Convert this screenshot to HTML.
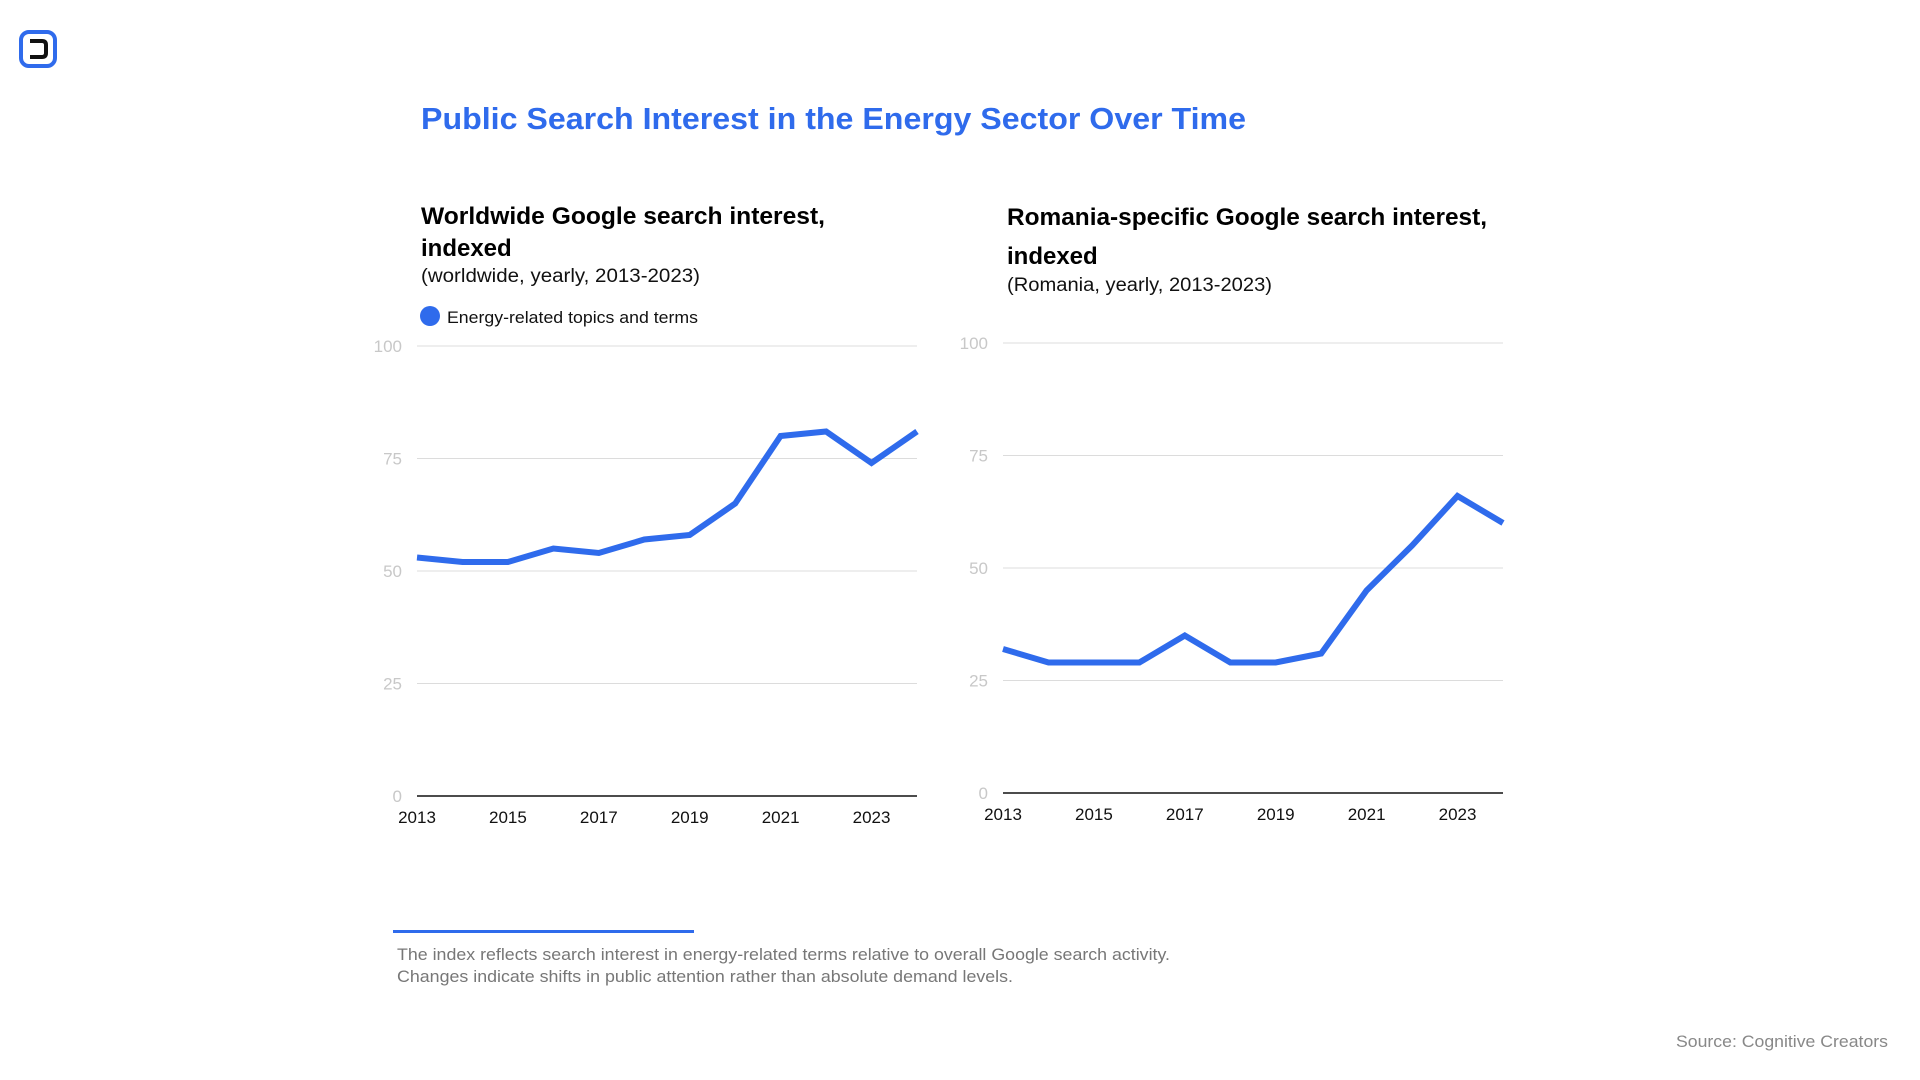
<!DOCTYPE html>
<html><head><meta charset="utf-8"><style>
html,body{margin:0;padding:0;background:#fff;width:1920px;height:1080px;overflow:hidden}
svg{display:block;font-family:"Liberation Sans",sans-serif}
</style></head><body>
<svg id="root" width="1920" height="1080" viewBox="0 0 1920 1080">
  <g>
    <rect x="21" y="32" width="34" height="34" rx="8" fill="none" stroke="#2f6bec" stroke-width="4"/>
    <path d="M30 41 H42 Q46 41 46 45 V53 Q46 57 42 57 H30" fill="none" stroke="#111" stroke-width="4"/>
  </g>
  <text x="421" y="129" font-size="31" font-weight="bold" fill="#2f6bec" textLength="825" lengthAdjust="spacingAndGlyphs">Public Search Interest in the Energy Sector Over Time</text>

  <text x="421" y="224" font-size="24" font-weight="bold" fill="#000" textLength="404" lengthAdjust="spacingAndGlyphs">Worldwide Google search interest,</text>
  <text x="421" y="256" font-size="24" font-weight="bold" fill="#000">indexed</text>
  <text x="421" y="282" font-size="19" fill="#111" textLength="279" lengthAdjust="spacingAndGlyphs">(worldwide, yearly, 2013-2023)</text>
  <circle cx="430" cy="316" r="10" fill="#2f6bec"/>
  <text x="447" y="323" font-size="17" fill="#111" textLength="251" lengthAdjust="spacingAndGlyphs">Energy-related topics and terms</text>

  <text x="1007" y="225" font-size="24" font-weight="bold" fill="#000" textLength="480" lengthAdjust="spacingAndGlyphs">Romania-specific Google search interest,</text>
  <text x="1007" y="264" font-size="24" font-weight="bold" fill="#000">indexed</text>
  <text x="1007" y="291" font-size="19" fill="#111" textLength="265" lengthAdjust="spacingAndGlyphs">(Romania, yearly, 2013-2023)</text>

  <g id="leftChart"></g>
  <g id="rightChart"></g>

  <rect x="393" y="930" width="301" height="3" fill="#2f6bec"/>
  <text x="397" y="960" font-size="17" fill="#777" textLength="773" lengthAdjust="spacingAndGlyphs">The index reflects search interest in energy-related terms relative to overall Google search activity.</text>
  <text x="397" y="982" font-size="17" fill="#777" textLength="616" lengthAdjust="spacingAndGlyphs">Changes indicate shifts in public attention rather than absolute demand levels.</text>
  <text x="1888" y="1047" font-size="17" fill="#888" text-anchor="end" textLength="212" lengthAdjust="spacingAndGlyphs">Source: Cognitive Creators</text>
</svg>
<script>
const years = [2013,2014,2015,2016,2017,2018,2019,2020,2021,2022,2023,2024];
const xTickLabels = ["2013","2015","2017","2019","2021","2023"];
const yTicks = [0,25,50,75,100];
const worldwideValues = [53,52,52,55,54,57,58,65,80,81,74,81];
const romaniaValues = [32,29,29,29,35,29,29,31,45,55,66,60];

const NS = "http://www.w3.org/2000/svg";
function mk(tag, attrs, parent){
  const e = document.createElementNS(NS, tag);
  for (const k in attrs) e.setAttribute(k, attrs[k]);
  parent.appendChild(e);
  return e;
}
function drawChart(g, values, x0, x1, yTop, yBot, labelX, prefix){
  const xScale = y => x0 + (y - years[0]) / (years[years.length-1] - years[0]) * (x1 - x0);
  const yScale = v => yBot - v / 100 * (yBot - yTop);
  yTicks.forEach(t => {
    const y = yScale(t);
    const line = mk("line", {x1:x0, x2:x1, y1:y, y2:y, stroke: t===0 ? "#111" : "#dcdcdc", "stroke-width": t===0 ? 1.5 : 1}, g);
    
    
    const lab = mk("text", {x: labelX, y: y + 6, "font-size": 17, fill: "#c8c8c8", "text-anchor": "end"}, g);
    lab.textContent = t;
    
    
  });
  xTickLabels.forEach(l => {
    const t = mk("text", {x: xScale(+l), y: yBot + 27, "font-size": 17, fill: "#111", "text-anchor": "middle"}, g);
    t.textContent = l;
    
    
  });
  const pts = values.map((v,i) => xScale(years[i]).toFixed(1) + "," + yScale(v).toFixed(1)).join(" ");
  const pl = mk("polyline", {points: pts, fill: "none", stroke: "#2f6bec", "stroke-width": 6, "stroke-linejoin": "miter"}, g);
  
  
}
drawChart(document.getElementById("leftChart"), worldwideValues, 417, 917, 346, 796, 402, "left-chart");
drawChart(document.getElementById("rightChart"), romaniaValues, 1003, 1503, 343, 793, 988, "right-chart");
</script>
</body></html>
